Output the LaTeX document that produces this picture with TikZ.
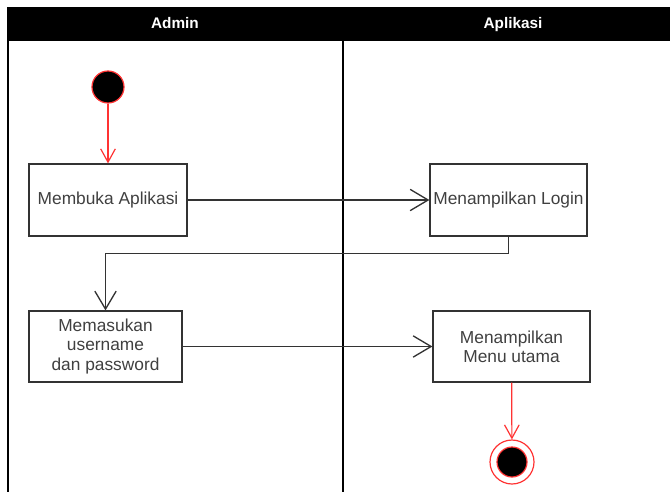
\documentclass[tikz,border=0pt]{standalone}
\usepackage{fontspec}
\setmainfont{Liberation Sans}
\usetikzlibrary{arrows.meta,positioning}

\definecolor{flowred}{rgb}{1,0.2,0.2}
\definecolor{boxline}{rgb}{0.2,0.2,0.2}
\definecolor{boxtext}{rgb}{0.25,0.25,0.25}

\begin{document}
\begin{tikzpicture}[x=0.75pt,y=0.75pt,yscale=-1,xscale=1,
  act/.style={draw=boxline, line width=0.9, fill=white, align=center, text=boxtext,
    inner xsep=1.5, minimum height=54, font=\fontsize{13}{14.5}\selectfont},
  flow/.style={draw=boxline, line width=1, -{Straight Barb[length=13.5, width=16]}},
  redflow/.style={draw=flowred, line width=0.9, -{Straight Barb[length=10, width=11]}},
  head/.style={text=white, text height=9, text depth=2.5, font=\bfseries\fontsize{11.5}{13}\selectfont},
  lane/.style={line width=1.4, black}]
\useasboundingbox (0,0) rectangle (670,492);

%Swimlane header
\fill[black] (7,7) rectangle (670,41);
\draw (175,24) node[head] (hadmin) {Admin};
\draw (513,24) node[head] (happ) {Aplikasi};
%Lane lines
\draw[lane] (8,41) -- (8,492);
\draw[lane, line width=1.8] (343,41) -- (343,492);

%Start
\node[circle, draw=flowred, fill=black, line width=0.9, minimum size=24, inner sep=0] (start) at (108,87) {};

%Activities
\node[act, minimum width=118.5] (buka) at (108,200) {Membuka Aplikasi};
\node[act, minimum width=117.75] (login) at (508.5,200) {Menampilkan Login};
\node[act, minimum width=114.75, minimum height=53.25] (masuk) at (105.5,346.5) {Memasukan\\username\\dan password};
\node[act, minimum width=117.75, minimum height=53.25] (menu) at (511.5,346.5) {Menampilkan\\Menu utama};

%End
\node[circle, draw=flowred, fill=white, line width=0.9, minimum size=33, inner sep=0] (fin) at (512,462) {};
\node[circle, draw=flowred, fill=black, line width=0.9, minimum size=22.5, inner sep=0] (finin) at (fin) {};

%Connectors
\draw[redflow] (start) -- (buka);
\draw[flow] (buka) -- (login);
\draw[flow] (login.south) -- ++(0,17) -| (masuk.north);
\draw[flow] (masuk) -- (menu);
\draw[redflow] (menu) -- (fin);

\end{tikzpicture}
\end{document}
